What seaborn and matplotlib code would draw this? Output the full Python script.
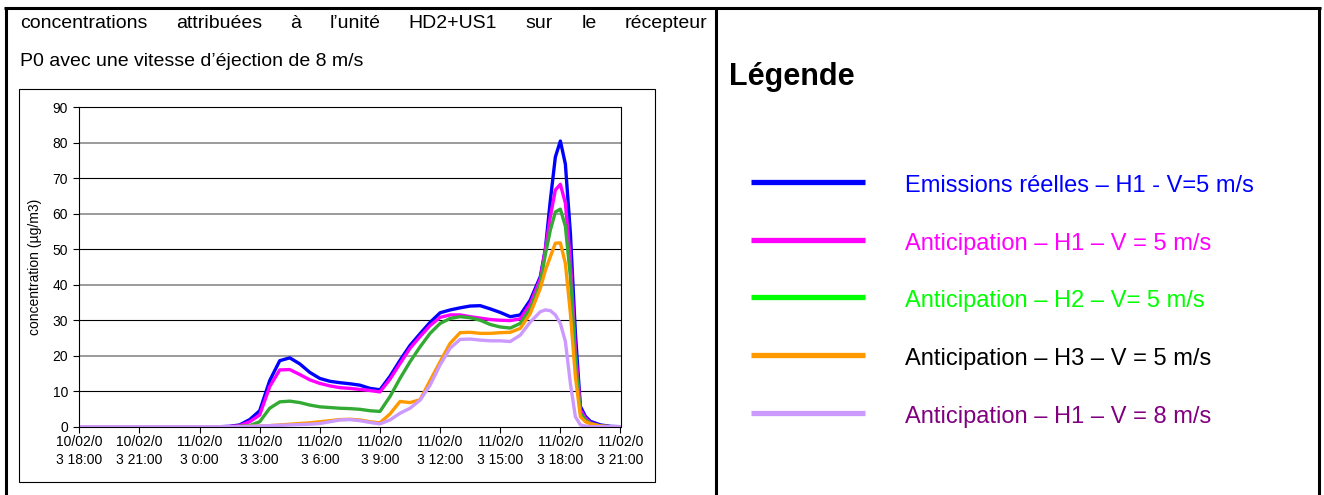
import matplotlib
matplotlib.use("Agg")
import matplotlib.pyplot as plt
import numpy as np
import pandas as pd
import seaborn as sns
from matplotlib.lines import Line2D
from matplotlib.patches import Rectangle

# ---- data -----------------------------------------------------------------
# hours elapsed since 10/02/03 18:00
hours = [0, 3, 6, 7, 7.5, 8, 8.5, 9, 9.5, 10, 10.5, 11, 11.5, 12, 12.5, 13,
         13.5, 14, 14.5, 15, 15.5, 16, 16.5, 17, 17.5, 18, 18.5, 19, 19.5,
         20, 20.5, 21, 21.5, 22, 22.5, 23, 23.25, 23.5, 23.75, 24, 24.25,
         24.5, 24.75, 25, 25.25, 25.5, 26, 26.5, 27]

emissions_h1_v5 = [0, 0, 0, 0, 0.1, 0.5, 2.0, 4.5, 13.0, 18.6, 19.4, 17.7, 15.3,
                   13.6, 12.8, 12.4, 12.1, 11.7, 10.8, 10.4, 14.2, 18.7, 22.9,
                   26.2, 29.4, 32.1, 32.9, 33.5, 34.0, 34.1, 33.2, 32.2, 31.0,
                   31.5, 35.7, 42.3, 50.0, 63.8, 76.0, 80.5, 74.0, 54.5, 26.3,
                   5.7, 2.9, 1.5, 0.5, 0.1, 0]
anticip_h1_v5 = [0, 0, 0, 0, 0.05, 0.3, 1.4, 3.3, 11.3, 16.0, 16.1, 14.7, 13.2,
                 12.2, 11.5, 11.0, 10.8, 10.5, 10.2, 9.8, 13.4, 17.8, 22.1,
                 25.4, 28.5, 30.8, 31.5, 31.5, 31.0, 30.6, 30.2, 30.0, 29.9,
                 30.4, 34.7, 41.7, 50.0, 59.2, 66.7, 68.3, 63.0, 47.0, 21.6,
                 4.7, 2.4, 1.1, 0.2, 0, 0]
anticip_h2_v5 = [0, 0, 0, 0, 0, 0.1, 0.3, 1.4, 5.2, 7.0, 7.2, 6.8, 6.1, 5.6,
                 5.4, 5.2, 5.1, 4.9, 4.5, 4.3, 8.5, 13.6, 18.3, 22.5, 26.3,
                 29.1, 30.5, 31.0, 30.7, 30.0, 28.8, 28.1, 27.8, 29.1, 33.3,
                 40.4, 48.5, 55.4, 60.5, 61.3, 56.5, 42.3, 18.8, 3.8, 1.9, 0.9,
                 0.2, 0, 0]
anticip_h3_v5 = [0, 0, 0, 0, 0, 0, 0.1, 0.2, 0.3, 0.5, 0.7, 0.9, 1.1, 1.4, 1.7,
                 2.0, 2.1, 1.9, 1.4, 1.1, 3.6, 7.1, 6.8, 7.6, 13.0, 18.3, 23.5,
                 26.5, 26.6, 26.3, 26.3, 26.5, 26.6, 27.7, 31.9, 39.0, 44.0,
                 47.9, 51.7, 51.8, 46.0, 31.9, 14.1, 2.8, 1.4, 0.8, 0.2, 0, 0]
anticip_h1_v8 = [0, 0, 0, 0, 0, 0, 0.1, 0.2, 0.3, 0.4, 0.5, 0.6, 0.7, 0.9, 1.4,
                 1.9, 2.0, 1.7, 1.2, 0.8, 1.9, 3.8, 5.2, 7.5, 11.7, 17.4, 22.1,
                 24.6, 24.7, 24.4, 24.2, 24.2, 24.0, 25.8, 29.5, 32.4, 32.9,
                 32.7, 31.5, 29.1, 24.0, 12.2, 2.8, 0.5, 0.2, 0, 0, 0, 0]

series_names = ["Emissions réelles – H1 - V=5 m/s",
                "Anticipation – H1 – V = 5 m/s",
                "Anticipation – H2 – V= 5 m/s",
                "Anticipation – H3 – V = 5 m/s",
                "Anticipation – H1 – V = 8 m/s"]
series_values = [emissions_h1_v5, anticip_h1_v5, anticip_h2_v5,
                 anticip_h3_v5, anticip_h1_v8]

tick_labels = ["10/02/0\n3 18:00", "10/02/0\n3 21:00", "11/02/0\n3 0:00",
               "11/02/0\n3 3:00", "11/02/0\n3 6:00", "11/02/0\n3 9:00",
               "11/02/0\n3 12:00", "11/02/0\n3 15:00", "11/02/0\n3 18:00",
               "11/02/0\n3 21:00"]
y_ticks = [0, 10, 20, 30, 40, 50, 60, 70, 80, 90]

title_line1 = "concentrations attribuées à l’unité HD2+US1 sur le récepteur"
title_line2 = "P0 avec une vitesse d’éjection de 8 m/s"
y_label = "concentration (µg/m3)"
legend_title = "Légende"

# ---- styles -----------------------------------------------------------------
line_colors = ["#0000FF", "#FF00FF", "#33AA33", "#FF9900", "#CC99FF"]
key_colors = ["#0000FF", "#FF00FF", "#00FF00", "#FF9900", "#CC99FF"]
key_text_colors = ["#0000FF", "#FF00FF", "#00FF00", "#000000", "#800080"]

sns.set_theme(style="white")
plt.rcParams["font.family"] = ["Liberation Sans", "DejaVu Sans"]

W, H = 1324, 495
fig = plt.figure(figsize=(W / 100, H / 100), dpi=100)
fig.patch.set_facecolor("white")


def fx(x):
    return x / W


def fy(y):
    return 1 - y / H


# ---- long-form frame -----------------------------------------------------------
start = pd.Timestamp("2003-02-10 18:00")
times = start + pd.to_timedelta(hours, unit="h")
frames = []
for name, vals in zip(series_names, series_values):
    frames.append(pd.DataFrame({"time": times, "value": vals, "series": name}))
df = pd.concat(frames, ignore_index=True)

# ---- plot area ------------------------------------------------------------------
ax = fig.add_axes([fx(79.3), fy(426.7), fx(620.5) - fx(79.3), fy(107.3) - fy(426.7)])

# horizontal gridlines (alternating dark / grey as in the worksheet chart)
for i, yv in enumerate(y_ticks[1:-1]):
    ax.axhline(yv, color="black" if i % 2 == 0 else "#808080",
               lw=0.8 if i % 2 == 0 else 1.1, zorder=0)

sns.lineplot(data=df, x="time", y="value", hue="series", hue_order=series_names,
             palette=dict(zip(series_names, line_colors)), linewidth=2.4,
             legend=False, ax=ax, estimator=None, sort=False)

ax.set_xlim(start, start + pd.Timedelta(hours=27))
ax.set_ylim(y_ticks[0], y_ticks[-1])
ax.set_yticks(y_ticks)
tick_pos = pd.date_range(start, periods=len(tick_labels), freq="3h")
ax.set_xticks(tick_pos)
ax.set_xticklabels(tick_labels, fontsize=10, linespacing=1.35)
ax.tick_params(axis="y", labelsize=10, length=4, width=0.8, color="black",
               direction="out", pad=4, left=True)
ax.tick_params(axis="x", length=4, width=0.8, color="black", direction="out",
               pad=2, bottom=True)
for lab in ax.get_yticklabels() + ax.get_xticklabels():
    lab.set_color("black")
ax.set_xlabel("")
ax.set_ylabel(y_label, fontsize=10, color="black")
ax.yaxis.set_label_coords(-0.068, 0.5)
ax.grid(False)
for sp in ax.spines.values():
    sp.set_visible(True)
    sp.set_color("black")
    sp.set_linewidth(0.8)

# chart frame
fig.add_artist(Rectangle((fx(18.5), fy(482)), fx(655) - fx(18.5), fy(89) - fy(482),
                         transform=fig.transFigure, fill=False, lw=0.8,
                         ec="black"))

# ---- table borders ---------------------------------------------------------------
lw_border = 2.2
fig.add_artist(Line2D([fx(4), fx(1320.5)], [fy(7.5), fy(7.5)], color="black",
                      lw=lw_border, transform=fig.transFigure,
                      solid_capstyle="butt"))
for xb in (5.5, 716, 1319):
    fig.add_artist(Line2D([fx(xb), fx(xb)], [fy(6.5), fy(500)], color="black",
                          lw=lw_border, transform=fig.transFigure,
                          solid_capstyle="butt"))

# ---- caption text (first line justified) -----------------------------------------
caption_size = 14
renderer = fig.canvas.get_renderer()
words = title_line1.split()
left_x, right_x = 20, 707.5
word_texts = [fig.text(0, fy(24), w, fontsize=caption_size, va="center",
                       ha="left", color="black") for w in words]
widths = [t.get_window_extent(renderer=renderer).width for t in word_texts]
gap = (right_x - left_x - sum(widths)) / (len(words) - 1)
xcur = left_x
for t, w in zip(word_texts, widths):
    t.set_x(fx(xcur))
    xcur += w + gap
fig.text(fx(20), fy(62), title_line2, fontsize=caption_size, va="center",
         ha="left", color="black")

# ---- key panel ------------------------------------------------------------------------
fig.text(fx(729), fy(77), legend_title, fontsize=22, fontweight="bold",
         va="center", ha="left", color="black")
rows = [182, 240, 297, 355, 413]
for yrow, name, lc, tc in zip(rows, series_names, key_colors, key_text_colors):
    fig.add_artist(Line2D([fx(751), fx(865)], [fy(yrow), fy(yrow)], color=lc,
                          lw=3.8, transform=fig.transFigure,
                          solid_capstyle="butt"))
    fig.text(fx(905), fy(yrow + 4), name, fontsize=17, va="center", ha="left",
             color=tc)

fig.savefig("out.png", dpi=100, facecolor="white")
